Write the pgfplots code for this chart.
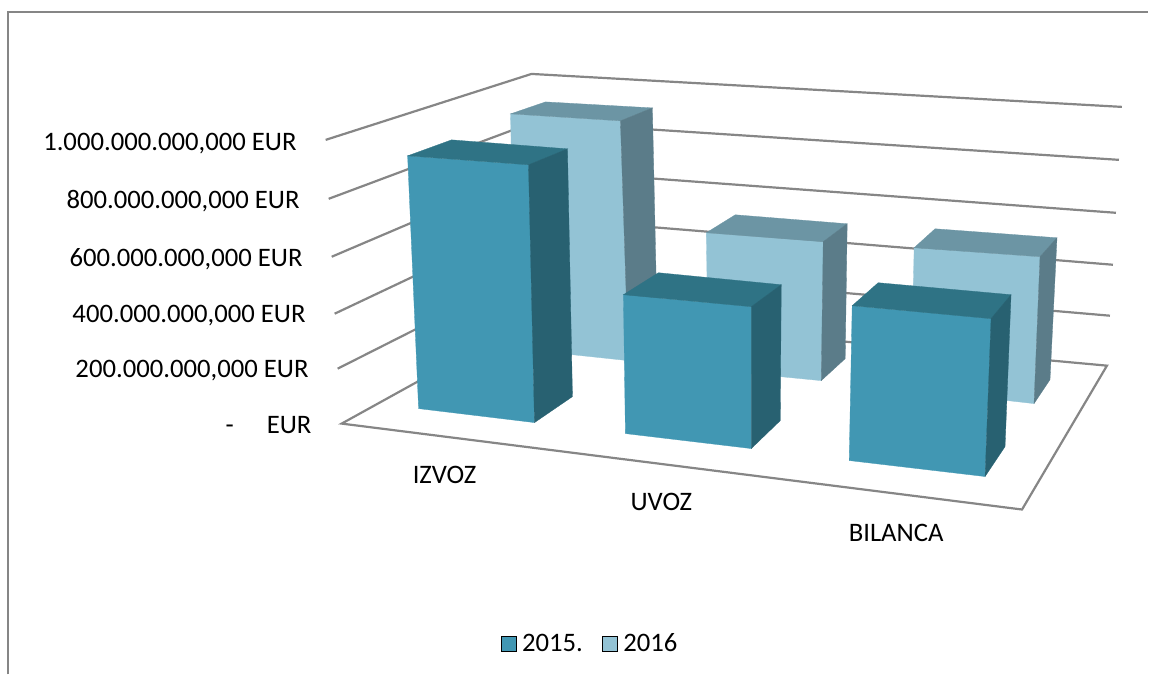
\documentclass[border=0pt]{standalone}
\usepackage{fontspec}
\setmainfont{Carlito}
\usepackage{pgfplots}
\pgfplotsset{compat=1.18}
\definecolor{fA}{HTML}{4197B3}
\definecolor{tA}{HTML}{2F7385}
\definecolor{sA}{HTML}{286171}
\definecolor{fB}{HTML}{93C3D5}
\definecolor{tB}{HTML}{6C95A4}
\definecolor{sB}{HTML}{5B7C89}
\definecolor{gr}{HTML}{868686}
\newcommand{\face}[2]{\addplot[fill=#1,draw=#1,line width=0.3pt,forget plot] coordinates {#2} --cycle;}
\newcommand{\gline}[1]{\addplot[draw=gr,line width=2.2pt,forget plot] coordinates {#1};}
\begin{document}
\begin{tikzpicture}[every node/.style={font=\fontsize{26.7}{32}\selectfont,text=black,inner sep=0pt}]
\begin{axis}[
  width=1149pt,height=675pt,scale only axis,
  xmin=0,xmax=1149,ymin=0,ymax=675,y dir=reverse,
  hide axis,clip=false,
  legend columns=2,
  legend style={draw=none,fill=none,at={(axis cs:501,644)},anchor=west,inner sep=0pt,
    font=\fontsize{25.8}{31}\selectfont,
    /tikz/every even column/.append style={column sep=17pt}},
  legend cell align=left,
  legend image code/.code={\fill[#1] (0pt,-7.5pt) rectangle (15pt,7.5pt);\path (19pt,0pt);},
]
% page extent
\addplot[draw=none,forget plot] coordinates {(0,0) (1149,675)};
% chart frame
\gline{(8,675) (8,12) (1149,12)}
% walls and gridlines
\gline{(326,140) (532,74) (1123,107)}
\gline{(329,199) (535,122) (1120,160)}
\gline{(332,257) (536,170) (1117,213)}
\gline{(335,314) (538,218) (1114,265)}
\gline{(338,369) (540,267) (1111,316)}
% floor
\addplot[draw=gr,line width=2.2pt,forget plot] coordinates {(342,424) (541,314) (1108,366) (1023,510)} --cycle;
% 2016 bars
\face{fB}{(511,114) (621,121) (629,361) (516,349)}
\face{tB}{(511,114) (546,102) (653,108) (621,121)}
\face{sB}{(621,121) (653,108) (658,335) (629,361)}
\face{fB}{(707,233) (824,242) (822,381) (709,370)}
\face{tB}{(707,233) (736,215) (848,224) (824,242)}
\face{sB}{(824,242) (848,224) (846,359) (822,381)}
\face{fB}{(915,248) (1041,257) (1035,404) (912,390)}
\face{tB}{(915,248) (936,229) (1058,238) (1041,257)}
\face{sB}{(1041,257) (1058,238) (1051,380) (1035,404)}
% 2015 bars
\face{fA}{(408,156) (529,165) (535,423) (419,409)}
\face{tA}{(408,156) (452,140) (568,149) (529,165)}
\face{sA}{(529,165) (568,149) (573,397) (535,423)}
\face{fA}{(624,295) (752,307) (752,449) (626,434)}
\face{tA}{(624,295) (659,273) (782,285) (752,307)}
\face{sA}{(752,307) (782,285) (781,421) (752,449)}
\face{fA}{(853,306) (992,319) (986,477) (850,461)}
\face{tA}{(853,306) (879,283) (1012,295) (992,319)}
\face{sA}{(992,319) (1012,295) (1006,447) (986,477)}
% value labels
\node[anchor=base east] at (axis cs:297,151) {1.000.000.000,000 EUR};
\node[anchor=base east] at (axis cs:300,209) {800.000.000,000 EUR};
\node[anchor=base east] at (axis cs:303,267) {600.000.000,000 EUR};
\node[anchor=base east] at (axis cs:306,323) {400.000.000,000 EUR};
\node[anchor=base east] at (axis cs:309,378) {200.000.000,000 EUR};
\node[anchor=base east] at (axis cs:312,434) {-\hspace{33pt}EUR};
% category labels
\node[anchor=base] at (axis cs:445,484) {IZVOZ};
\node[anchor=base] at (axis cs:662,511) {UVOZ};
\node[anchor=base] at (axis cs:897,542) {BILANCA};
% legend
\addlegendimage{fill=fA}
\addlegendentry{2015.}
\addlegendimage{fill=fB}
\addlegendentry{2016}
\end{axis}
\end{tikzpicture}
\end{document}
